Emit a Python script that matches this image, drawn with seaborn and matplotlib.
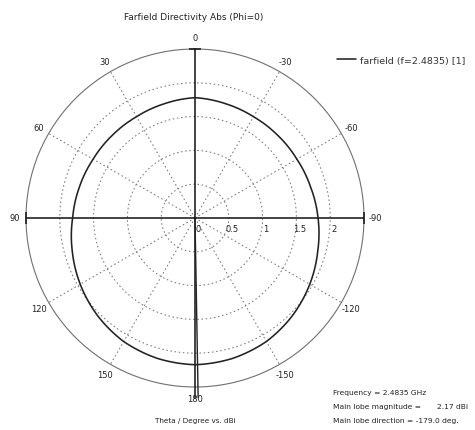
import numpy as np
import matplotlib
matplotlib.use("Agg")
import matplotlib.pyplot as plt
import seaborn as sns
import pandas as pd

# ---- data ----
theta_deg = [-180, -165, -150, -135, -120, -105, -90, -75, -60, -45, -30, -15,
             0, 15, 30, 45, 60, 75, 90, 105, 120, 135, 150, 165, 180]
directivity_dbi = [2.17, 2.15, 2.11, 2.04, 1.96, 1.88, 1.82, 1.77, 1.74, 1.73, 1.73, 1.75,
                   1.78, 1.75, 1.73, 1.73, 1.74, 1.77, 1.81, 1.88, 1.96, 2.04, 2.11, 2.15, 2.17]
angle_ticks = [0, 30, 60, 90, 120, 150, 180, -150, -120, -90, -60, -30]
radial_ticks = [0, 0.5, 1, 1.5, 2]
radial_grid = [0.5, 1, 1.5, 2]
r_max = 2.5
main_lobe_dir = -179.0
main_lobe_mag = 2.17
frequency = 2.4835
series_label = "farfield (f=2.4835) [1]"

sns.set_theme(style="white")
plt.rcParams['font.family'] = ['DejaVu Sans']

fig = plt.figure(figsize=(4.75, 4.31), dpi=100)
ax = fig.add_axes([26/475, 43/431, 338/475, 338/431], projection='polar')
ax.set_theta_zero_location('N')
ax.set_theta_direction(1)
ax.set_ylim(0, r_max)
ax.set_xticks([])
ax.set_yticks([])
ax.grid(False)
ax.spines['polar'].set_color('#707070')
ax.spines['polar'].set_linewidth(0.8)

fs = 6
txt = '#222222'
grid_c = '#7a7a7a'
grid_ls = (0, (1.5, 2.5))

# dotted circles
circ = np.linspace(0, 2*np.pi, 721)
for r in radial_grid:
    ax.plot(circ, np.full_like(circ, r), color=grid_c, lw=0.75, ls=grid_ls, zorder=1)

# radial spokes
for a in angle_ticks:
    th = np.deg2rad(a)
    if a % 90 == 0:
        continue
    ax.plot([th, th], [0, r_max], color=grid_c, lw=0.75, ls=grid_ls, zorder=1)

# main axes lines
for a in [0, 90, -90]:
    th = np.deg2rad(a)
    ax.plot([th, th], [0, r_max], color='#111111', lw=1.1, zorder=3)
ax.plot([np.pi, np.pi], [0, 2.66], color='#111111', lw=1.1, zorder=3, clip_on=False)
ax.plot([0], [r_max], marker='_', ms=9, mew=1.1, color='#111111', zorder=3, clip_on=False)
ax.plot([np.pi/2, -np.pi/2], [r_max, r_max], ls='none', marker='|', ms=9, mew=1.1,
        color='#111111', zorder=3, clip_on=False)

# pattern
df = pd.DataFrame({'theta': np.deg2rad(theta_deg), 'dbi': directivity_dbi})
n_before = len(ax.lines)
sns.lineplot(data=df, x='theta', y='dbi', sort=False, ax=ax, color='#222222',
             lw=1.15, label=series_label, zorder=4)
for ln in ax.lines[n_before:]:
    ln.get_path()._interpolation_steps = 40
ax.set_xlabel('')
ax.set_ylabel('')

# main lobe direction marker
th_ml = np.deg2rad(main_lobe_dir)
ax.plot([th_ml, th_ml], [0, 2.66], color='#222222', lw=1.0, zorder=4, clip_on=False)

# angle labels
for a in angle_ticks:
    ax.text(np.deg2rad(a), 2.67, str(a), ha='center', va='center', fontsize=fs,
            color=txt, clip_on=False)

# radial labels
for r in radial_ticks:
    ax.annotate(f"{r:g}", xy=(-np.pi/2, r), xytext=(2.5, -7.5), textcoords='offset points',
                ha='center', va='center', fontsize=fs, color=txt)

leg = ax.legend(loc='upper left', bbox_to_anchor=(0.692, 0.888), bbox_transform=fig.transFigure,
                frameon=False, fontsize=6.8, handlelength=2.0, handletextpad=0.45,
                labelcolor='#333333')

fig.text(194/475, 1 - 18/431, "Farfield Directivity Abs (Phi=0)", ha='center', va='center',
         fontsize=6.5, color=txt)
fig.text(195/475, 1 - 421/431, "Theta / Degree vs. dBi", ha='center', va='center',
         fontsize=5.2, color=txt)
fig.text(333/475, 1 - 393/431, f"Frequency = {frequency} GHz", ha='left', va='center',
         fontsize=5.4, color=txt)
fig.text(333/475, 1 - 407/431, "Main lobe magnitude =", ha='left', va='center',
         fontsize=5.4, color=txt)
fig.text(468/475, 1 - 407/431, f"{main_lobe_mag:.2f} dBi", ha='right', va='center',
         fontsize=5.4, color=txt)
fig.text(333/475, 1 - 421/431, f"Main lobe direction = {main_lobe_dir:.1f} deg.", ha='left',
         va='center', fontsize=5.4, color=txt)

fig.savefig("out.png", dpi=100)
